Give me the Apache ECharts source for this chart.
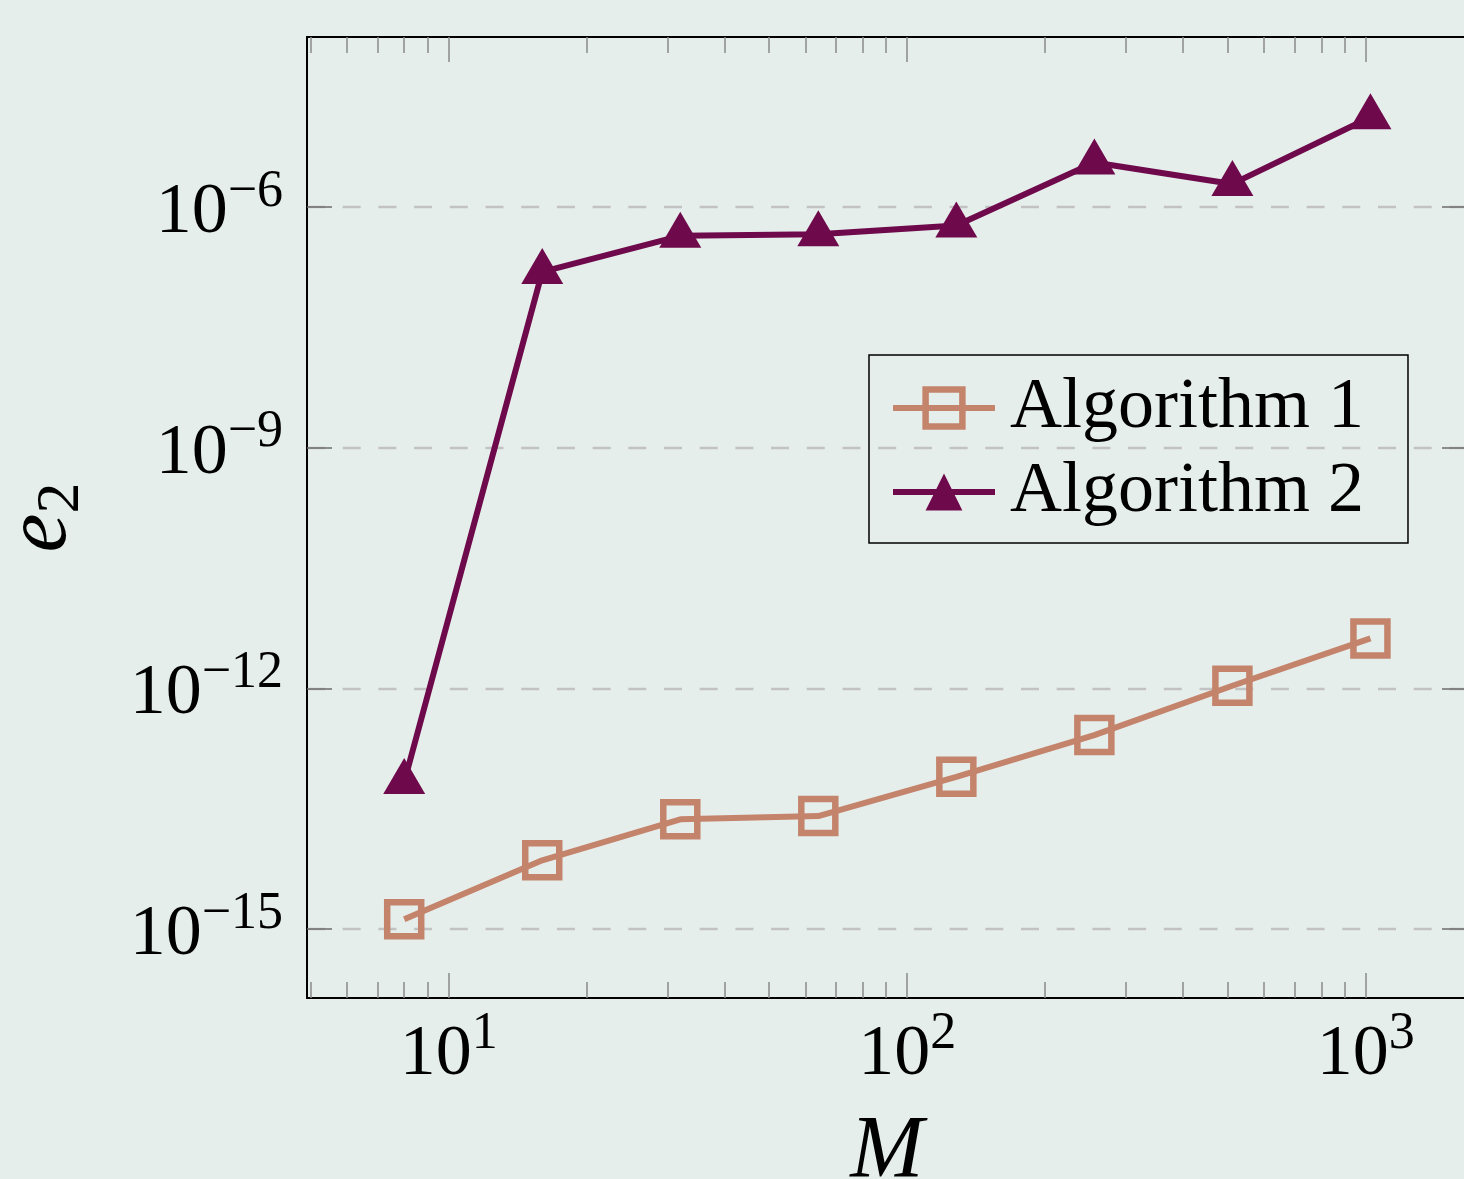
<!DOCTYPE html>
<html>
<head>
<meta charset="utf-8">
<script src="https://cdn.jsdelivr.net/npm/echarts@6/dist/echarts.min.js"></script>
<style>
html,body{margin:0;padding:0;background:#e6eeec;}
#c{width:1464px;height:1179px;}
</style>
</head>
<body>
<div id="c"></div>
<script>
// ---- data ----
const M = [8, 16, 32, 64, 128, 256, 512, 1024];
const alg1 = [1.32e-15, 7.2e-15, 2.33e-14, 2.56e-14, 7.9e-14, 2.62e-13, 1.08e-12, 4.2e-12];
const alg2 = [6.8e-14, 1.56e-7, 4.4e-7, 4.6e-7, 5.9e-7, 3.6e-6, 1.95e-6, 1.32e-5];
const seriesNames = ['Algorithm 1', 'Algorithm 2'];
const xMajorTicks = [10, 100, 1000];
const xMinorTicks = [5, 6, 7, 8, 9, 20, 30, 40, 50, 60, 70, 80, 90, 200, 300, 400, 500, 600, 700, 800, 900];
const yMajorTicks = [1e-15, 1e-12, 1e-9, 1e-6];
const xRange = [4.91, 1663];
const yRange = [1.38e-16, 1.324e-4];

// ---- styling ----
const FONT = 'Liberation Serif';
const C1 = '#c4846c';
const C2 = '#6e0a4b';
const TICK = '#8a8a8a';
const L = Math.log10;

const supLabel = (v) => {
  const e = Math.round(v);
  const s = e < 0 ? '\u2212' + Math.abs(e) : String(e);
  return '{b|10}{s|' + s + '}';
};
const richLab = {
  b: {fontFamily: FONT, fontSize: 72, lineHeight: 72, color: '#000'},
  s: {fontFamily: FONT, fontSize: 52, height: 30, lineHeight: 30, verticalAlign: 'top', color: '#000'}
};

const xmin = L(xRange[0]), xmax = L(xRange[1]);
const ymin = L(yRange[0]), ymax = L(yRange[1]);
const xMaj = xMajorTicks.map(L), xMin = xMinorTicks.map(L), yMaj = yMajorTicks.map(L);

function xAxisDef(pos, ticks, len, showLine, showLabel, extra) {
  return Object.assign({
    type: 'value', position: pos, min: xmin, max: xmax,
    axisLine: {show: showLine, onZero: false, lineStyle: {color: '#000', width: 2}},
    axisTick: {show: true, inside: true, length: len, customValues: ticks, lineStyle: {color: TICK, width: 1.5}},
    axisLabel: showLabel ? {show: true, customValues: ticks, margin: 21, formatter: supLabel, rich: richLab} : {show: false},
    splitLine: {show: false}
  }, extra || {});
}

const option = {
  animation: false,
  backgroundColor: '#e6eeec',
  grid: {left: 307, top: 37, width: 1160, height: 961, outerBoundsMode: 'none', containLabel: false},
  xAxis: [
    xAxisDef('bottom', xMaj, 25, true, true, {
      name: 'M', nameLocation: 'middle', nameGap: 111,
      nameTextStyle: {fontFamily: FONT, fontStyle: 'italic', fontSize: 88, lineHeight: 88, color: '#000'}
    }),
    xAxisDef('bottom', xMin, 16, false, false),
    xAxisDef('top', xMaj, 25, true, false),
    xAxisDef('top', xMin, 16, false, false)
  ],
  yAxis: [
    {
      type: 'value', position: 'left', min: ymin, max: ymax,
      axisLine: {show: true, onZero: false, lineStyle: {color: '#000', width: 2}},
      axisTick: {show: true, inside: true, length: 25, customValues: yMaj, lineStyle: {color: '#6e6e6e', width: 1.5}},
      axisLabel: {show: true, customValues: yMaj, margin: 24, formatter: supLabel, rich: richLab, padding: [12, 0, 0, 0]},
      splitLine: {show: true, lineStyle: {color: '#c2c2c2', width: 2.3, type: [18, 17.7]}},
      name: '{e|e}{s|2}', nameLocation: 'middle', nameGap: 221,
      nameTextStyle: {
        rich: {
          e: {fontFamily: FONT, fontStyle: 'italic', fontSize: 88, lineHeight: 88, color: '#000'},
          s: {fontFamily: FONT, fontSize: 62, height: 48, lineHeight: 48, verticalAlign: 'bottom', color: '#000'}
        }
      }
    },
    {
      type: 'value', position: 'right', min: ymin, max: ymax,
      axisLine: {show: true, onZero: false, lineStyle: {color: '#000', width: 2}},
      axisTick: {show: true, inside: true, length: 25, customValues: yMaj, lineStyle: {color: '#6e6e6e', width: 1.5}},
      axisLabel: {show: false},
      splitLine: {show: false}
    }
  ],
  legend: {
    orient: 'vertical', left: 869, top: 355,
    itemWidth: 102, itemHeight: 46, itemGap: 12,
    padding: [17, 44, 15, 21],
    borderColor: '#000', borderWidth: 1.5, backgroundColor: 'transparent',
    textStyle: {fontFamily: FONT, fontSize: 72, lineHeight: 72, color: '#000', padding: [0, 0, 0, 10]},
    lineStyle: {width: 6},
    itemStyle: {borderWidth: 6.5},
    data: [
      {name: seriesNames[0], itemStyle: {borderWidth: 6.5}},
      {name: seriesNames[1], itemStyle: {borderWidth: 0}}
    ]
  },
  series: [
    {
      name: seriesNames[0], type: 'line', xAxisIndex: 0, yAxisIndex: 0,
      data: M.map((m, i) => [L(m), L(alg1[i])]),
      symbol: 'rect', symbolSize: 34,
      lineStyle: {color: C1, width: 6},
      itemStyle: {color: 'rgba(0,0,0,0)', borderColor: C1, borderWidth: 6.5},
      z: 3
    },
    {
      name: seriesNames[1], type: 'line', xAxisIndex: 0, yAxisIndex: 0,
      data: M.map((m, i) => [L(m), L(alg2[i])]),
      symbol: 'triangle', symbolSize: [42, 36], symbolOffset: [0, -6],
      lineStyle: {color: C2, width: 6},
      itemStyle: {color: C2, borderWidth: 0},
      z: 4
    }
  ]
};

const chart = echarts.init(document.getElementById('c'), null, {renderer: 'canvas'});
chart.setOption(option);
</script>
</body>
</html>
